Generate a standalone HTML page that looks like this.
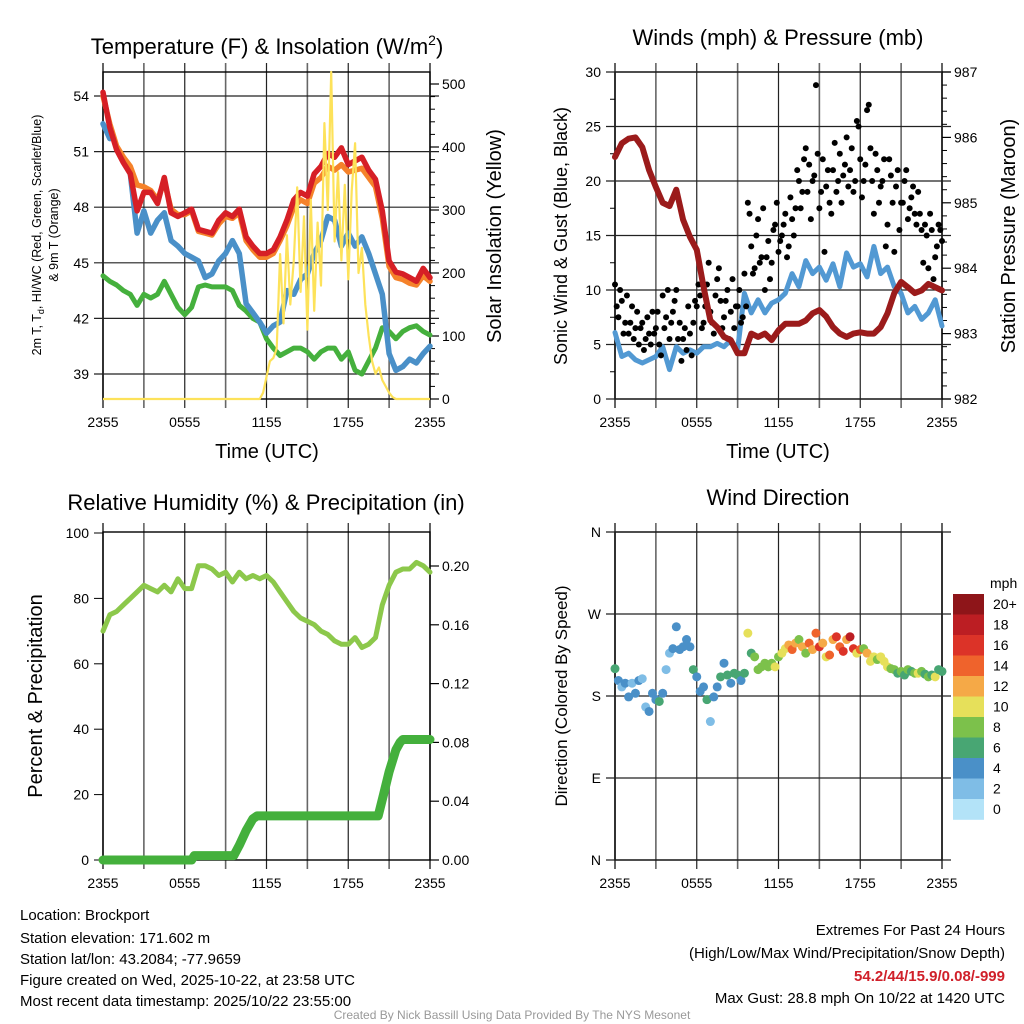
<!DOCTYPE html>
<html><head><meta charset="utf-8"><title>Mesonet Meteogram</title>
<style>
html,body{margin:0;padding:0;background:#fff;}
svg{display:block;font-family:"Liberation Sans",Arial,sans-serif;}
</style></head>
<body>
<svg id="chart" width="1024" height="1024" viewBox="0 0 1024 1024" xmlns="http://www.w3.org/2000/svg">
<rect width="1024" height="1024" fill="#fff"/>
<text x="267" y="54" font-size="22" text-anchor="middle">Temperature (F) &amp; Insolation (W/m<tspan font-size="14" dy="-9">2</tspan><tspan dy="9">)</tspan></text>
<text x="778" y="45" font-size="22" text-anchor="middle">Winds (mph) &amp; Pressure (mb)</text>
<text x="266" y="510" font-size="22" text-anchor="middle">Relative Humidity (%) &amp; Precipitation (in)</text>
<text x="778" y="505" font-size="22" text-anchor="middle">Wind Direction</text>
<text transform="translate(41,235) rotate(-90)" font-size="12.5" text-anchor="middle">2m T, T<tspan font-size="9" dy="3">d</tspan><tspan dy="-3">, HI/WC (Red, Green, Scarlet/Blue)</tspan></text>
<text transform="translate(58,235) rotate(-90)" font-size="12.5" text-anchor="middle">&amp; 9m T (Orange)</text>
<text transform="translate(501,236) rotate(-90)" font-size="20" text-anchor="middle">Solar Insolation (Yellow)</text>
<text transform="translate(567,236) rotate(-90)" font-size="18" text-anchor="middle">Sonic Wind &amp; Gust (Blue, Black)</text>
<text transform="translate(1015,236) rotate(-90)" font-size="20" text-anchor="middle">Station Pressure (Maroon)</text>
<text transform="translate(42,696) rotate(-90)" font-size="20" text-anchor="middle">Percent &amp; Precipitation</text>
<text transform="translate(567,696) rotate(-90)" font-size="17" text-anchor="middle">Direction (Colored By Speed)</text>
<text x="267" y="458" font-size="20" text-anchor="middle">Time (UTC)</text>
<text x="778" y="458" font-size="20" text-anchor="middle">Time (UTC)</text>
<g font-size="15">
<text x="20" y="920">Location: Brockport</text>
<text x="20" y="943">Station elevation: 171.602 m</text>
<text x="20" y="964">Station lat/lon: 43.2084; -77.9659</text>
<text x="20" y="985">Figure created on Wed, 2025-10-22, at 23:58 UTC</text>
<text x="20" y="1006">Most recent data timestamp: 2025/10/22 23:55:00</text>
</g>
<g font-size="15" text-anchor="end">
<text x="1005" y="935">Extremes For Past 24 Hours</text>
<text x="1005" y="958">(High/Low/Max Wind/Precipitation/Snow Depth)</text>
<text x="1005" y="981" fill="#d0202a" font-weight="bold">54.2/44/15.9/0.08/-999</text>
<text x="1005" y="1003">Max Gust: 28.8 mph On 10/22 at 1420 UTC</text>
</g>
<text x="512" y="1019" font-size="12" fill="#999" text-anchor="middle">Created By Nick Bassill Using Data Provided By The NYS Mesonet</text>
<g id="layer"></g>
</svg>
<script>
const hours = [0,0.5,1,1.5,2,2.5,3,3.5,4,4.5,5,5.5,6,6.5,7,7.5,8,8.5,9,9.5,10,10.5,11,11.5,12,12.5,13,13.5,14,14.5,15,15.5,16,16.5,17,17.5,18,18.5,19,19.5,20,20.5,21,21.5,22,22.5,23,23.5,24];
const tempRed = [54.2,52.3,51.1,50.4,49.8,47.8,48.8,48.8,48.2,49.6,47.7,47.5,47.7,47.9,46.8,46.7,46.6,47.3,47.7,47.5,47.9,46.4,45.9,45.5,45.5,45.7,46.4,47.3,48.4,48.8,48.6,49.8,50.2,50.9,50.7,51.2,50.3,50.5,50.7,50.0,49.5,47.8,45.1,44.5,44.4,44.2,44.0,44.7,44.2];
const temp9m = [54.0,52.5,51.3,50.7,50.2,49.2,49.1,48.9,48.4,49.4,47.9,47.6,47.6,47.8,46.7,46.6,46.5,47.1,47.5,47.4,47.7,46.2,45.7,45.3,45.3,45.5,46.2,47.0,48.0,48.4,48.2,49.3,49.6,50.2,50.0,50.3,49.9,50.0,50.1,49.6,49.1,47.4,44.8,44.2,44.1,43.9,43.8,44.3,44.0];
const windChill = [52.5,51.7,null,50.5,49.8,46.6,47.8,46.6,47.3,47.7,46.2,45.9,45.5,45.3,45.1,44.2,44.4,45.1,45.5,46.2,45.5,42.8,42.3,41.8,41.2,41.6,41.8,43.5,43.3,44.1,44.4,45.5,46.2,47.5,47.3,45.9,46.6,45.9,46.4,45.5,44.4,43.3,40.1,39.2,39.4,39.8,39.6,40.1,40.5];
const dewPoint = [44.3,44.0,43.8,43.5,43.3,42.7,43.3,43.1,43.3,44.0,43.3,42.6,42.2,42.6,43.7,43.8,43.7,43.7,43.7,43.5,42.7,42.4,42.0,41.8,40.9,40.4,40.0,40.2,40.4,40.4,40.2,39.8,40.2,40.4,40.4,39.8,40.2,39.2,39.0,39.7,40.4,41.5,41.3,40.9,41.3,41.5,41.6,41.3,41.1];
const solarT = [0,11.5,11.75,12,12.25,12.5,12.75,13,13.25,13.5,13.75,14,14.25,14.5,14.75,15,15.25,15.5,15.75,16,16.25,16.5,16.75,17,17.25,17.5,17.75,18,18.25,18.5,18.75,19,19.25,19.5,19.75,20,20.25,20.5,20.75,21,21.25,21.5,24];
const solarV = [0,0,10,35,60,65,80,230,120,260,150,220,336,170,290,110,316,140,280,180,438,300,519,250,360,220,340,190,330,406,200,240,150,100,60,40,50,30,20,10,3,0,0];
const pressure = [985.70,985.91,985.98,986.0,985.85,985.50,985.24,985.0,984.95,985.2,984.74,984.48,984.28,983.71,983.2,983.1,982.95,982.9,982.70,982.70,983.0,982.95,983.0,982.9,983.05,983.15,983.15,983.15,983.2,983.31,983.36,983.26,983.1,983.0,982.95,983.0,983.02,983.0,983.0,983.1,983.31,983.62,983.79,983.71,983.62,983.66,983.76,983.71,983.66];
const sonicWind = [6.1,3.9,4.2,3.6,3.3,3.6,3.9,4.8,2.7,4.8,4.2,4.5,4.2,4.8,4.8,5.1,4.8,5.4,4.5,9.7,7.9,9.1,7.9,8.8,9.1,9.7,11.5,10.3,12.7,11.5,12.1,10.9,12.4,10.3,13.4,12.1,12.4,11.2,14.0,11.5,12.1,10.3,9.7,7.9,8.5,7.3,7.9,9.1,6.7];
const quarterHours = [0,0.25,0.5,0.75,1,1.25,1.5,1.75,2,2.25,2.5,2.75,3,3.25,3.5,3.75,4,4.25,4.5,4.75,5,5.25,5.5,5.75,6,6.25,6.5,6.75,7,7.25,7.5,7.75,8,8.25,8.5,8.75,9,9.25,9.5,9.75,10,10.25,10.5,10.75,11,11.25,11.5,11.75,12,12.25,12.5,12.75,13,13.25,13.5,13.75,14,14.25,14.5,14.75,15,15.25,15.5,15.75,16,16.25,16.5,16.75,17,17.25,17.5,17.75,18,18.25,18.5,18.75,19,19.25,19.5,19.75,20,20.25,20.5,20.75,21,21.25,21.5,21.75,22,22.25,22.5,22.75,23,23.25,23.5,23.75,24];
const gusts = [10.5,7.5,9.0,7.0,6.0,8.5,6.5,5.0,7.0,5.5,6.0,8.0,6.5,5.0,9.5,7.5,5.5,8.0,10.0,7.0,5.5,4.5,6.0,7.0,8.5,9.5,7.0,10.5,8.0,6.0,11.0,9.0,7.5,10.0,8.0,6.5,8.5,7.0,11.5,18.0,14.0,12.0,16.5,13.0,10.0,14.5,12.5,16.0,13.5,15.0,17.0,14.0,16.5,17.5,20.0,19.0,23.0,21.5,20.0,28.8,17.5,22.0,19.5,18.0,21.0,19.0,22.5,20.5,24.0,21.0,19.0,25.5,22.0,20.0,26.5,23.0,17.0,21.0,19.5,22.0,16.0,20.5,13.5,21.0,18.0,20.0,16.5,18.5,17.0,19.0,15.5,16.0,12.0,15.5,13.0,16.0,14.5];
const gustsOffset = [8.5,10.0,6.0,9.5,7.0,5.5,8.0,6.5,4.5,7.5,5.0,6.0,8.0,4.0,6.5,10.0,7.0,9.0,5.5,3.5,6.5,8.5,4.0,9.0,10.5,6.5,8.5,12.5,7.0,9.5,12.0,6.5,9.0,5.5,11.0,8.5,10.0,7.5,8.5,17.0,11.5,15.0,12.5,17.5,13.0,11.0,15.5,18.0,14.5,16.0,13.0,18.5,15.0,21.0,17.5,22.0,19.0,16.5,20.5,22.5,19.0,13.5,21.0,17.0,23.5,20.0,18.0,21.5,19.5,23.0,20.0,25.0,18.5,21.5,27.0,20.0,22.5,18.0,20.0,14.0,22.0,18.0,19.5,15.5,18.0,21.0,17.5,19.5,16.0,17.0,12.5,15.0,17.0,11.0,14.0,15.5];
const windDir = [210,197,190,194,179,194,183,197,199,168,163,183,176,174,183,209,227,232,256,231,234,242,234,209,201,185,190,176,152,179,190,201,216,203,194,205,203,197,205,249,227,223,209,212,216,212,216,212,223,227,232,236,231,238,242,234,227,238,231,249,234,238,223,225,242,245,234,229,242,245,232,227,231,232,227,218,223,220,223,218,212,210,209,205,207,203,209,207,205,205,207,204,201,203,201,209,207];
const dirSpeed = [6,4,3,4,4,2,4,4,2,2,4,4,4,6,4,2,2,4,4,4,4,4,4,6,4,4,4,6,2,4,4,6,4,6,4,6,6,4,6,10,6,8,8,8,8,8,8,10,8,10,10,12,14,12,8,12,8,14,12,14,16,12,10,14,12,16,14,16,12,18,16,10,14,8,12,10,10,8,10,10,10,8,8,6,8,6,8,6,8,10,8,6,8,6,10,6,6];
const rhValues = [70,75,76,78,80,82,84,83,82,84,82,86,83,83,90,90,89,87,88,85,88,86,87,86,87,85,82,79,76,74,73,72,70,69,67,66,66,68,65,66,68,78,84,88,89,89,91,90,88];
const precipT = [0,6.5,6.7,9.6,10,10.5,11,11.3,20.2,20.6,21,21.5,21.8,22,24];
const precipV = [0,0,0.003,0.003,0.01,0.02,0.028,0.03,0.03,0.045,0.06,0.075,0.08,0.082,0.082];
const tempTicks = [39,42,45,48,51,54];
const solarTicks = [0,100,200,300,400,500];
const windTicks = [0,5,10,15,20,25,30];
const presTicks = [982,983,984,985,986,987];
const rhTicks = [0,20,40,60,80,100];
const precipTicks = ["0.00","0.04","0.08","0.12","0.16","0.20"];
const dirTicks = [0,90,180,270,360];
const dirLabels = ["N","E","S","W","N"];
const timeTicks = [0,6,12,18,24];
const timeLabels = ["2355","0555","1155","1755","2355"];
const speedLabels = ["20+","18","16","14","12","10","8","6","4","2","0"];
const speedColors = ["#8e1519","#bc1e23","#dc3328","#ef632c","#f5a947","#e6e05a","#7cc14b","#48a673","#4a90c8","#7fbde6","#b3e3f8"];

const NS="http://www.w3.org/2000/svg";
const layer=document.getElementById('layer');
function mk(tag,attrs,parent){const e=document.createElementNS(NS,tag);for(const k in attrs)e.setAttribute(k,attrs[k]);(parent||layer).appendChild(e);return e;}
const L={x0:103,x1:430}, R={x0:615,x1:942}, TOP={y0:72,y1:399}, BOT={y0:532,y1:860};
function tx(p,t){return p.x0+t/24*(p.x1-p.x0);}
const yTemp=v=>96+(54-v)*55.6/3;
const ySolar=v=>399-v*0.63;
const yWind=v=>399-v*10.9;
const yPres=v=>399-(v-982)*65.4;
const yRH=v=>860-v*3.27;
const yPrec=v=>860-v*1470;
const yDir=v=>860-v*328/360;

function frame(p,b,name){
  const g=mk('g',{});
  
  
  for(let h=3;h<24;h+=3){const x=tx(p,h);mk('line',{x1:x,y1:b.y0-9,x2:x,y2:b.y1+9,stroke:(h%6==0)?'#222':'#666','stroke-width':(h%6==0)?1.2:1.6},g);}
  [0,24].forEach(h=>{const x=tx(p,h);mk('line',{x1:x,y1:b.y0-9,x2:x,y2:b.y1+9,stroke:'#222','stroke-width':1.4},g);});
  mk('rect',{x:p.x0,y:b.y0,width:p.x1-p.x0,height:b.y1-b.y0,fill:'none',stroke:'#000','stroke-width':1.4},g);
  timeTicks.forEach((h,i)=>{const t=mk('text',{x:tx(p,h),y:b.y1+28,'font-size':14,'text-anchor':'middle'},g);t.textContent=timeLabels[i];});
}
function hgrid(p,ticks,yf,labels,side,name,grid){
  const g=mk('g',{});
  
  
  ticks.forEach((v,i)=>{const y=yf(typeof v==='string'?parseFloat(v):v);
    if(grid) mk('line',{x1:p.x0-9,y1:y,x2:p.x1+9,y2:y,stroke:'#222','stroke-width':1.2},g);
    else if(side==='right') mk('line',{x1:p.x1,y1:y,x2:p.x1+9,y2:y,stroke:'#000','stroke-width':1.2},g);
    const t=mk('text',{x:side==='left'?p.x0-14:p.x1+12,y:y+5,'font-size':14,'text-anchor':side==='left'?'end':'start'},g);
    t.textContent=labels?labels[i]:v;});
}
function minor(p,vals,yf,side){
  vals.forEach(v=>{const y=yf(v);const x=side==='left'?p.x0:p.x1;mk('line',{x1:x,y1:y,x2:x+(side==='left'?-5:5),y2:y,stroke:'#000','stroke-width':1});});
}
function linePath(xs,ys,p,yf){let d='',pen=false;for(let i=0;i<xs.length;i++){if(ys[i]===null){pen=false;continue;}const x=tx(p,xs[i]),y=yf(ys[i]);d+=(pen?'L':'M')+x.toFixed(1)+','+y.toFixed(1);pen=true;}return d;}

frame(L,TOP,'temperature');
hgrid(L,tempTicks,yTemp,null,'left','temperature-y-ticks',true);
hgrid(L,solarTicks,ySolar,null,'right','solar-y-ticks',false);
{const mv=[];for(let v=20;v<520;v+=20)if(v%100)mv.push(v);minor(L,mv,ySolar,'right');}
let e;
e=mk('path',{d:linePath(hours,dewPoint,L,yTemp),fill:'none',stroke:'#45b03d','stroke-width':5,'stroke-linejoin':'round','stroke-linecap':'round'});


e=mk('path',{d:linePath(hours,windChill,L,yTemp),fill:'none',stroke:'#4a90c8','stroke-width':5.5,'stroke-linejoin':'round','stroke-linecap':'round'});


e=mk('path',{d:linePath(hours,temp9m,L,yTemp),fill:'none',stroke:'#f5822a','stroke-width':5.5,'stroke-linejoin':'round','stroke-linecap':'round'});


e=mk('path',{d:linePath(hours,tempRed,L,yTemp),fill:'none',stroke:'#d61f26','stroke-width':5.5,'stroke-linejoin':'round','stroke-linecap':'round'});


e=mk('path',{d:linePath(solarT,solarV,L,ySolar),fill:'none',stroke:'#fde25a','stroke-width':2.2,'stroke-linejoin':'round'});



frame(R,TOP,'winds');
hgrid(R,windTicks,yWind,null,'left','wind-y-ticks',true);
hgrid(R,presTicks,yPres,null,'right','pressure-y-ticks',false);
minor(R,[2.5,7.5,12.5,17.5,22.5,27.5],yWind,'left');
{const mv=[];for(let v=982.2;v<987;v+=0.2){if(Math.abs(v-Math.round(v))>0.05)mv.push(v);}minor(R,mv,yPres,'right');}
e=mk('path',{d:linePath(hours,sonicWind,R,yWind),fill:'none',stroke:'#5299d3','stroke-width':5,'stroke-linejoin':'round','stroke-linecap':'round'});


{const g=mk('g',{});


quarterHours.forEach((t,i)=>{const c=mk('circle',{cx:tx(R,t),cy:yWind(gusts[i]),r:3,fill:'#000'},g);

});
gustsOffset.forEach((v,i)=>{const c=mk('circle',{cx:tx(R,quarterHours[i]+0.125),cy:yWind(v),r:3,fill:'#000'},g);

});}
e=mk('path',{d:linePath(hours,pressure,R,yPres),fill:'none',stroke:'#9b1b1b','stroke-width':6,'stroke-linejoin':'round','stroke-linecap':'round'});



frame(L,BOT,'humidity');
hgrid(L,rhTicks,yRH,null,'left','rh-y-ticks',false);
rhTicks.forEach(v=>mk('line',{x1:L.x0,y1:yRH(v),x2:L.x0-9,y2:yRH(v),stroke:'#000'}));
hgrid(L,precipTicks,yPrec,precipTicks,'right','precip-y-ticks',false);
e=mk('path',{d:linePath(hours,rhValues,L,yRH),fill:'none',stroke:'#8cc84b','stroke-width':5,'stroke-linejoin':'round','stroke-linecap':'round'});


e=mk('path',{d:linePath(precipT,precipV,L,yPrec),fill:'none',stroke:'#44b03c','stroke-width':9,'stroke-linejoin':'round','stroke-linecap':'round'});



frame(R,BOT,'direction');
hgrid(R,dirTicks,yDir,dirLabels,'left','direction-y-ticks',true);
{const g=mk('g',{});


quarterHours.forEach((t,i)=>{const b=Math.min(10,Math.floor(dirSpeed[i]/2));
const c=mk('circle',{cx:tx(R,t),cy:yDir(windDir[i]),r:4.5,fill:speedColors[10-b]},g);

});}
{const g=mk('g',{});


const t0=mk('text',{x:990,y:588,'font-size':14},g);t0.textContent='mph';
speedColors.forEach((c,i)=>{const y=594+i*20.5;mk('rect',{x:953,y:y,width:31,height:20.8,fill:c},g);
const t=mk('text',{x:993,y:y+15,'font-size':14},g);t.textContent=speedLabels[i];});}
</script>
</body></html>
